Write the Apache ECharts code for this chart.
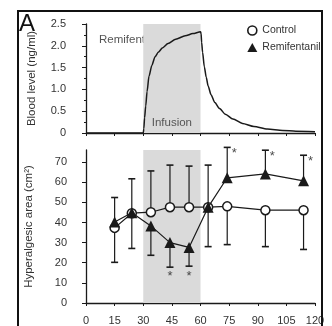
<!DOCTYPE html>
<html><head><meta charset="utf-8">
<script src="https://cdn.jsdelivr.net/npm/echarts@6/dist/echarts.min.js"></script>
<style>html,body{margin:0;padding:0;background:#fff}#c{width:332px;height:326px}</style>
</head><body><div id="c"></div>
<script>
// ---- Panel A: blood level ----
const pkTimes  = [0, 30, 30.3, 30.7, 31.3, 32, 33, 34.5, 36.2, 38, 40, 43, 47, 52, 56, 60, 60.3, 60.6, 61.1, 62, 63, 64, 65.5, 67.5, 70, 73, 77, 82, 88, 95, 103, 110, 120];
const pkLevels = [0, 0, 0.1, 0.35, 0.62, 0.95, 1.3, 1.55, 1.75, 1.86, 1.95, 2.05, 2.15, 2.23, 2.28, 2.32, 2.28, 2.08, 1.85, 1.52, 1.28, 1.08, 0.88, 0.7, 0.56, 0.43, 0.32, 0.22, 0.15, 0.09, 0.06, 0.04, 0.03];
const infusionWindow = [30, 60];

// ---- Panel B: hyperalgesic area ----
const times        = [15, 24, 34, 44, 54, 64, 74, 94, 114];
const control      = [37.3, 44.6, 45.1, 47.6, 47.6, 47.6, 48.0, 46.1, 46.1];
const remi         = [40.2, 44.8, 38.3, 30.0, 27.6, 47.6, 62.2, 64.1, 60.7];
const controlUpper = [null, null, 65.6, 68.5, 68.0, 68.5, null, null, null];
const controlLower = [20.2, 27.1, null, null, null, 28.0, 29.0, 28.0, 26.6];
const remiUpper    = [52.4, 61.7, null, null, null, null, 77.3, 75.9, 73.4];
const remiLower    = [null, null, 23.7, 17.8, 18.3, null, null, null, null];
const starsBelowT  = [44, 54];
const starsBelowV  = [13, 13];
const starsRightT  = [74, 94, 114];
const starsRightV  = [74.5, 72.9, 70.1];
const xTicks       = [0, 15, 30, 45, 60, 75, 90, 105, 120];
const bottomYTicks = [0, 10, 20, 30, 40, 50, 60, 70];

const FONT = "'Liberation Sans', Arial, sans-serif";
const INK = '#1a1a1a';
const TXT = '#333';

function bars(vals, ends) {
  const out = [];
  times.forEach((t, i) => { if (ends[i] != null) out.push([t, vals[i], ends[i]]); });
  return out;
}
function whisker(params, api) {
  const x = api.value(0), v = api.value(1), e = api.value(2);
  const p0 = api.coord([x, v]), p1 = api.coord([x, e]);
  const hw = 3.5;
  return { type: 'group', children: [
    { type: 'line', shape: { x1: p0[0], y1: p0[1], x2: p1[0], y2: p1[1] }, style: { stroke: INK, lineWidth: 1.2 } },
    { type: 'line', shape: { x1: p1[0] - hw, y1: p1[1], x2: p1[0] + hw, y2: p1[1] }, style: { stroke: INK, lineWidth: 1.6 } }
  ]};
}

const chart = echarts.init(document.getElementById('c'), null, { renderer: 'canvas' });
const axisLabelStyle = { color: TXT, fontFamily: FONT, fontSize: 11 };

chart.setOption({
  animation: false,
  textStyle: { fontFamily: FONT },
  grid: [
    { left: 86, right: 17, top: 24, bottom: 193 },
    { left: 86, right: 17, top: 150, bottom: 20.5 }
  ],
  xAxis: [
    { gridIndex: 0, type: 'value', min: 0, max: 120, interval: 15, offset: 4,
      axisLine: { lineStyle: { color: INK, width: 1.3 } },
      axisTick: { show: true, length: 3, lineStyle: { color: INK } },
      axisLabel: { show: false }, splitLine: { show: false } },
    { gridIndex: 1, type: 'value', min: 0, max: 120, interval: 15, offset: 2,
      axisLine: { lineStyle: { color: INK, width: 1.3 } },
      axisTick: { show: true, length: 3, lineStyle: { color: INK } },
      axisLabel: Object.assign({ margin: 10, customValues: xTicks }, axisLabelStyle),
      splitLine: { show: false } }
  ],
  yAxis: [
    { gridIndex: 0, type: 'value', min: 0, max: 2.5, interval: 0.5, offset: 11,
      name: 'Blood level (ng/ml)', nameLocation: 'middle', nameGap: 37,
      nameTextStyle: { color: TXT, fontFamily: FONT, fontSize: 11.5 },
      axisLine: { show: true, lineStyle: { color: INK, width: 1.3 } },
      axisTick: { show: true, length: 4, lineStyle: { color: INK } },
      minorTick: { show: true, splitNumber: 2, length: 2, lineStyle: { color: INK } },
      axisLabel: Object.assign({ margin: 9, formatter: v => v === 0 ? '0' : v.toFixed(1) }, axisLabelStyle),
      splitLine: { show: false } },
    { gridIndex: 1, type: 'value', min: 0, max: 76, offset: 10,
      name: 'Hyperalgesic area (cm²)', nameLocation: 'middle', nameGap: 41,
      nameTextStyle: { color: TXT, fontFamily: FONT, fontSize: 11.5 },
      axisLine: { show: true, lineStyle: { color: INK, width: 1.3 } },
      axisTick: { show: true, length: 4, customValues: bottomYTicks, lineStyle: { color: INK } },
      axisLabel: Object.assign({ margin: 9, customValues: bottomYTicks }, axisLabelStyle),
      splitLine: { show: false } }
  ],
  legend: {
    left: 242, top: 20, orient: 'vertical', itemGap: 6, itemWidth: 10, itemHeight: 9,
    textStyle: { color: TXT, fontFamily: FONT, fontSize: 10.5, padding: [0, 0, 0, 0] },
    data: [
      { name: 'Control', icon: 'circle', itemStyle: { color: '#fff', borderColor: INK, borderWidth: 1.6 } },
      { name: 'Remifentanil', icon: 'triangle', itemStyle: { color: INK } }
    ]
  },
  graphic: [
    { type: 'rect', z: 100, shape: { x: 18, y: 11, width: 304, height: 340 }, style: { fill: 'none', stroke: '#111', lineWidth: 2 } },
    { type: 'text', z: 100, left: 19, top: 12, style: { text: 'A', font: "normal 24px 'Liberation Sans', Arial, sans-serif", fill: '#111' } },
    { type: 'text', z: 0, left: 99, top: 34, style: { text: 'Remifentanil', font: '11.5px ' + FONT, fill: '#555' } }
  ],
  series: [
    { type: 'line', xAxisIndex: 0, yAxisIndex: 0, data: pkTimes.map((t, i) => [t, pkLevels[i]]),
      showSymbol: false, smooth: 0.25, smoothMonotone: 'x', lineStyle: { color: INK, width: 1.5 }, z: 3,
      markArea: { silent: true, itemStyle: { color: '#dadada' },
        label: { show: true, position: 'insideBottom', distance: 4, color: '#555', fontFamily: FONT, fontSize: 11.5 },
        data: [[{ name: 'Infusion', xAxis: infusionWindow[0] }, { xAxis: infusionWindow[1] }]] } },
    { type: 'line', xAxisIndex: 1, yAxisIndex: 1, data: [], markArea: { silent: true, itemStyle: { color: '#dadada' },
        data: [[{ xAxis: infusionWindow[0] }, { xAxis: infusionWindow[1] }]] }, z: 1 },
    { type: 'custom', name: 'ctrlErr', xAxisIndex: 1, yAxisIndex: 1, renderItem: whisker, data: bars(control, controlUpper).concat(bars(control, controlLower)), z: 2 },
    { type: 'custom', name: 'remiErr', xAxisIndex: 1, yAxisIndex: 1, renderItem: whisker, data: bars(remi, remiUpper).concat(bars(remi, remiLower)), z: 2 },
    { type: 'line', name: 'Control', xAxisIndex: 1, yAxisIndex: 1, data: times.map((t, i) => [t, control[i]]),
      symbol: 'circle', symbolSize: 9, showAllSymbol: true,
      itemStyle: { color: '#fff', borderColor: INK, borderWidth: 1.5 }, lineStyle: { color: INK, width: 1.2 }, z: 4 },
    { type: 'line', name: 'Remifentanil', xAxisIndex: 1, yAxisIndex: 1, data: times.map((t, i) => [t, remi[i]]),
      symbol: 'triangle', symbolSize: 11, showAllSymbol: true,
      itemStyle: { color: INK }, lineStyle: { color: INK, width: 1.2 }, z: 5 },
    { type: 'scatter', xAxisIndex: 1, yAxisIndex: 1, data: starsBelowT.map((t, i) => [t, starsBelowV[i]]), symbolSize: 0,
      label: { show: true, formatter: '*', position: 'inside', color: INK, fontSize: 13, fontFamily: FONT }, z: 6 },
    { type: 'scatter', xAxisIndex: 1, yAxisIndex: 1, data: starsRightT.map((t, i) => [t, starsRightV[i]]), symbolSize: 0,
      label: { show: true, formatter: '*', position: 'inside', offset: [7, 0], color: INK, fontSize: 13, fontFamily: FONT }, z: 6 }
  ]
});
</script>
</body></html>
